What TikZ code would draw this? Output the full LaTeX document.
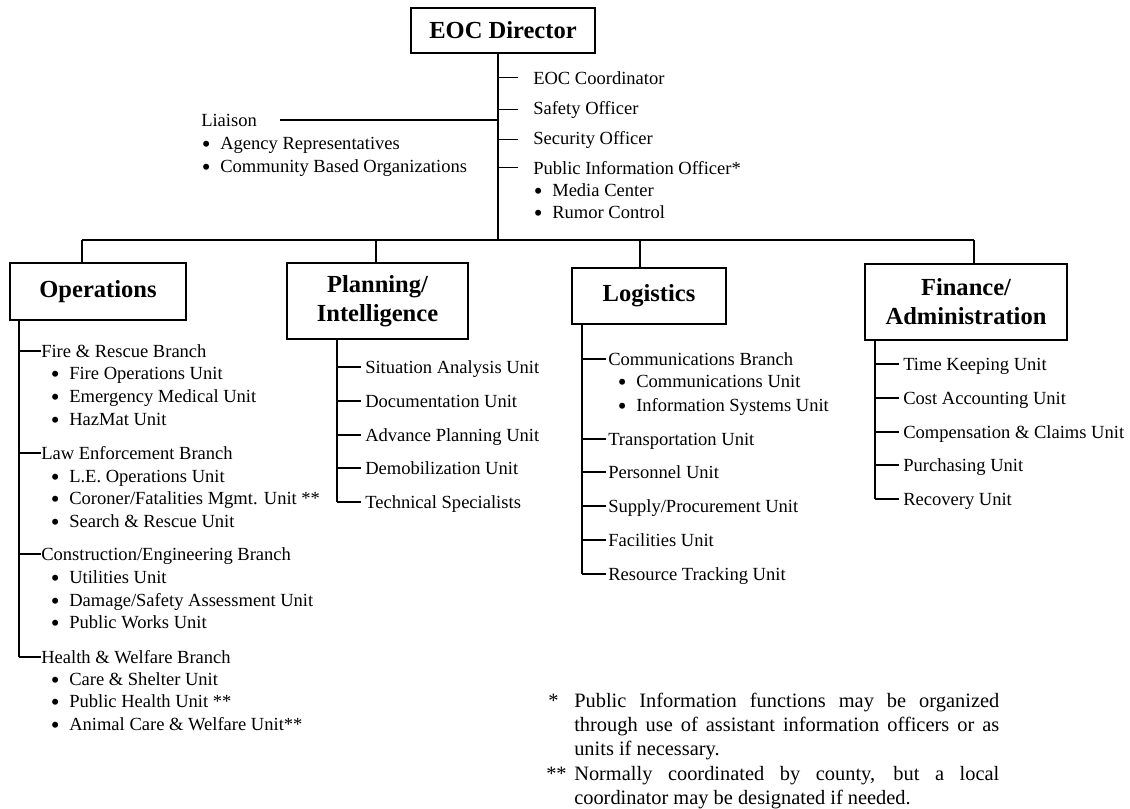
\documentclass[tikz,border=0pt]{standalone}
\usepackage{fontspec}
\setmainfont{Liberation Serif}
\begin{document}
\begin{tikzpicture}[x=0.75pt,y=-0.75pt,
  box/.style={draw, line width=1.5pt, rectangle, inner sep=0pt, align=center,
    font=\bfseries\fontsize{18.4}{21.75}\selectfont},
  txt/.style={anchor=base west, inner sep=0pt, font=\fontsize{13.9}{16}\selectfont},
  note/.style={anchor=base west, inner sep=0pt, font=\fontsize{15.3}{18}\selectfont},
  ln/.style={line width=1.4pt},
  tk/.style={line width=1.2pt}]
\newcommand{\bul}{\llap{\smash{\raisebox{-2.4pt}{\scalebox{1.35}{•}}}\hspace{7.3pt}}}
\useasboundingbox (0,0) rectangle (1130,808);
% boxes
\node[box, minimum width={184*0.75pt}, minimum height={45*0.75pt}] (dir) at (503,30.5) {EOC Director};
\node[box, minimum width={176*0.75pt}, minimum height={57*0.75pt}] (ops) at (98,291.5) {Operations};
\node[box, minimum width={181*0.75pt}, minimum height={76*0.75pt}] (pln) at (377.5,301) {Planning/\\Intelligence};
\node[box, minimum width={154*0.75pt}, minimum height={56*0.75pt}] (log) at (649,296) {Logistics};
\node[box, minimum width={202*0.75pt}, minimum height={76*0.75pt}] (fin) at (966,302) {Finance/\\Administration};
% director trunk
\coordinate (t0) at (498,53);
\coordinate (t1) at (498,240);
\draw[ln] (t0) -- (t1);
\coordinate (b1) at (82,240);
\coordinate (b2) at (376,240);
\coordinate (b3) at (640,240);
\coordinate (b4) at (974,240);
\draw[ln] (b1) -- (b4);
\draw[ln] (b1) -- (b1 |- ops.north);
\draw[ln] (b2) -- (b2 |- pln.north);
\draw[ln] (b3) -- (b3 |- log.north);
\draw[ln] (b4) -- (b4 |- fin.north);
% staff
\node[txt] (coord) at (533,84) {EOC Coordinator};
\node[txt] (saf) at (533,114) {Safety Officer};
\node[txt] (sec) at (533,144) {Security Officer};
\node[txt] (pio) at (533,174) {Public Information Officer*};
\node[txt] (med) at (552,196) {\bul Media Center};
\node[txt] (rum) at (552,218) {\bul Rumor Control};
\foreach \n in {coord,saf,sec,pio}
  \draw[tk] (t0 |- \n.west) -- ++(20,0);
\node[txt] (lia) at (201,126) {Liaison};
\node[txt] (agr) at (220,149) {\bul Agency Representatives};
\node[txt] (cbo) at (220,172) {\bul Community Based Organizations};
\coordinate (liae) at (280,120);
\draw[tk] (liae) -- (liae -| t0);
% operations
\coordinate (o0) at (19,320);
\node[txt] (fr) at (41,357) {Fire \& Rescue Branch};
\node[txt] at (69,379) {\bul Fire Operations Unit};
\node[txt] at (69,402) {\bul Emergency Medical Unit};
\node[txt] at (69,425) {\bul HazMat Unit};
\node[txt] (le) at (41,459) {Law Enforcement Branch};
\node[txt] at (69,482) {\bul L.E. Operations Unit};
\node[txt] at (69,504) {\bul Coroner/Fatalities Mgmt. Unit **};
\node[txt] at (69,527) {\bul Search \& Rescue Unit};
\node[txt] (ce) at (41,560) {Construction/Engineering Branch};
\node[txt] at (69,583) {\bul Utilities Unit};
\node[txt] at (69,606) {\bul Damage/Safety Assessment Unit};
\node[txt] at (69,628) {\bul Public Works Unit};
\node[txt] (hw) at (41,663) {Health \& Welfare Branch};
\node[txt] at (69,685) {\bul Care \& Shelter Unit};
\node[txt] at (69,707) {\bul Public Health Unit **};
\node[txt] at (69,730) {\bul Animal Care \& Welfare Unit**};
\draw[ln] (o0) -- (o0 |- 0,657);
\foreach \n/\y in {fr/351,le/453,ce/554,hw/657}
  \draw[tk] (19,\y) -- (\n.west |- 0,\y);
% planning
\coordinate (p0) at (337,339);
\node[txt] (p1) at (365,373) {Situation Analysis Unit};
\node[txt] (p2) at (365,407) {Documentation Unit};
\node[txt] (p3) at (365,441) {Advance Planning Unit};
\node[txt] (p4) at (365,474) {Demobilization Unit};
\node[txt] (p5) at (365,508) {Technical Specialists};
\draw[ln] (p0) -- (p0 |- 0,502);
\foreach \n/\y in {p1/367,p2/401,p3/435,p4/468,p5/502}
  \draw[tk] (337,\y) -- ([xshift=-4*0.75pt]\n.west |- 0,\y);
% logistics
\coordinate (l0) at (582,324);
\node[txt] (l1) at (608,365) {Communications Branch};
\node[txt] at (636,387) {\bul Communications Unit};
\node[txt] at (636,411) {\bul Information Systems Unit};
\node[txt] (l2) at (608,445) {Transportation Unit};
\node[txt] (l3) at (608,478) {Personnel Unit};
\node[txt] (l4) at (608,512) {Supply/Procurement Unit};
\node[txt] (l5) at (608,546) {Facilities Unit};
\node[txt] (l6) at (608,580) {Resource Tracking Unit};
\draw[ln] (l0) -- (l0 |- 0,574);
\foreach \n/\y in {l1/359,l2/439,l3/472,l4/506,l5/540,l6/574}
  \draw[tk] (582,\y) -- ([xshift=-2*0.75pt]\n.west |- 0,\y);
% finance
\coordinate (f0) at (875,340);
\node[txt] (f1) at (903,370) {Time Keeping Unit};
\node[txt] (f2) at (903,404) {Cost Accounting Unit};
\node[txt] (f3) at (903,438) {Compensation \& Claims Unit};
\node[txt] (f4) at (903,471) {Purchasing Unit};
\node[txt] (f5) at (903,505) {Recovery Unit};
\draw[ln] (f0) -- (f0 |- 0,499);
\foreach \n/\y in {f1/364,f2/398,f3/432,f4/465,f5/499}
  \draw[tk] (875,\y) -- ([xshift=-4*0.75pt]\n.west |- 0,\y);
% footnotes
\node[note] (s1) at (548,707) {*};
\node[note] (n1a) at (574,707) {\makebox[318.75pt][s]{Public Information functions may be organized}};
\node[note] (n1b) at (574,731) {\makebox[318.75pt][s]{through use of assistant information officers or as}};
\node[note] (n1c) at (574,755) {units if necessary.};
\node[note] (s2) at (546,780) {**};
\node[note] (n2a) at (574,780) {\makebox[318.75pt][s]{Normally coordinated by county, but a local}};
\node[note] (n2b) at (574,804) {coordinator may be designated if needed.};
\end{tikzpicture}
\end{document}
